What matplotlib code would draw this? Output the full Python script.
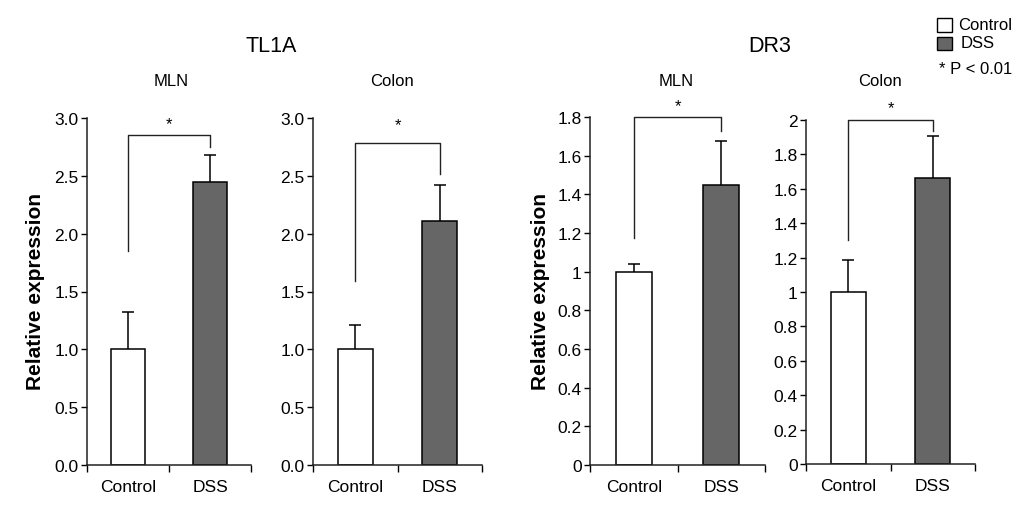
import matplotlib
matplotlib.use("Agg")
import matplotlib.pyplot as plt
from matplotlib.patches import Rectangle

plt.rcParams['font.family'] = ['Liberation Sans', 'DejaVu Sans']

W, H = 1028, 510

categories = ["Control", "DSS"]
group_titles = ["TL1A", "DR3"]
panel_titles = ["MLN", "Colon", "MLN", "Colon"]

tl1a_mln = [1.0, 2.45]
tl1a_mln_err = [0.32, 0.23]
tl1a_colon = [1.0, 2.11]
tl1a_colon_err = [0.21, 0.31]
dr3_mln = [1.0, 1.45]
dr3_mln_err = [0.04, 0.225]
dr3_colon = [1.0, 1.665]
dr3_colon_err = [0.185, 0.24]

# bracket levels: (top, left end, right end)
brackets = [(2.85, 1.85, 2.75), (2.78, 1.59, 2.52), (1.80, 1.175, 1.726), (2.0, 1.30, 1.936)]
star_levels = [2.95, 2.94, 1.857, 2.07]

ylims = [3.0, 3.0, 1.8, 2.0]
yticks = [[0.0, 0.5, 1.0, 1.5, 2.0, 2.5, 3.0],
          [0.0, 0.5, 1.0, 1.5, 2.0, 2.5, 3.0],
          [0, 0.2, 0.4, 0.6, 0.8, 1, 1.2, 1.4, 1.6, 1.8],
          [0, 0.2, 0.4, 0.6, 0.8, 1, 1.2, 1.4, 1.6, 1.8, 2]]
ytick_labels = [["0.0", "0.5", "1.0", "1.5", "2.0", "2.5", "3.0"],
                ["0.0", "0.5", "1.0", "1.5", "2.0", "2.5", "3.0"],
                ["0", "0.2", "0.4", "0.6", "0.8", "1", "1.2", "1.4", "1.6", "1.8"],
                ["0", "0.2", "0.4", "0.6", "0.8", "1", "1.2", "1.4", "1.6", "1.8", "2"]]

values = [tl1a_mln, tl1a_colon, dr3_mln, dr3_colon]
errors = [tl1a_mln_err, tl1a_colon_err, dr3_mln_err, dr3_colon_err]

# axes boxes in pixels: left, right, top, bottom
boxes = [(87, 251, 119, 466), (313, 482, 119, 466), (590, 765, 118, 466), (806, 975, 121, 465)]

bar_colors = ["white", "#666666"]

fig = plt.figure(figsize=(W / 100, H / 100), dpi=100)

for i in range(4):
    l, r, t, b = boxes[i]
    ax = fig.add_axes([l / W, 1 - b / H, (r - l) / W, (b - t) / H])
    x = [0, 1]
    ax.bar(x, values[i], width=0.41, color=bar_colors, edgecolor="black", linewidth=1.1, zorder=2)
    eb = ax.errorbar(x, values[i], yerr=[[0, 0], errors[i]], fmt="none", ecolor="black",
                     elinewidth=1.1, capsize=4.5, capthick=1.1, zorder=3)
    eb[1][0].set_visible(False)
    top, lft, rgt = brackets[i]
    ax.plot([0, 0, 1, 1], [lft, top, top, rgt], color="#222222", linewidth=1.0, clip_on=False, zorder=3)
    ax.text(0.5, star_levels[i], "*", ha="center", va="center", fontsize=12, clip_on=False)
    ax.set_xlim(-0.5, 1.5)
    ax.set_ylim(0, ylims[i])
    ax.set_yticks(yticks[i])
    ax.set_yticklabels(ytick_labels[i], fontsize=12.5)
    ax.set_xticks(x)
    ax.set_xticklabels(categories, fontsize=12.5)
    ax.set_xticks([-0.5, 0.5, 1.5], minor=True)
    ax.tick_params(axis="x", which="major", length=0, pad=10)
    ax.tick_params(axis="x", which="minor", length=5, width=1, direction="out")
    ax.tick_params(axis="y", length=4, width=1, direction="out", pad=2)
    for s in ["top", "right"]:
        ax.spines[s].set_visible(False)
    for s in ["left", "bottom"]:
        ax.spines[s].set_linewidth(1.1)
        ax.spines[s].set_color("#222222")
    ax.set_facecolor("none")

# group titles
fig.text(271 / W, 1 - 47 / H, group_titles[0], ha="center", va="center", fontsize=15.5)
fig.text(770 / W, 1 - 47 / H, group_titles[1], ha="center", va="center", fontsize=15.5)

# panel titles
for xp, t in zip([171, 392, 676, 880], panel_titles):
    fig.text(xp / W, 1 - 81 / H, t, ha="center", va="center", fontsize=12)

# y labels
for xp in [36, 540]:
    fig.text(xp / W, 1 - 292 / H, "Relative expression", rotation=90, ha="center", va="center",
             fontsize=15, fontweight="bold")

# legend
fig.add_artist(Rectangle((937 / W, 1 - 33 / H), 15 / W, 14 / H, transform=fig.transFigure,
                         facecolor="white", edgecolor="black", linewidth=1.0))
fig.add_artist(Rectangle((937 / W, 1 - 51 / H), 15 / W, 13 / H, transform=fig.transFigure,
                         facecolor="#666666", edgecolor="black", linewidth=1.0))
fig.text(958 / W, 1 - 26 / H, categories[0], ha="left", va="center", fontsize=12)
fig.text(961 / W, 1 - 44 / H, categories[1], ha="left", va="center", fontsize=12)
fig.text(1012 / W, 1 - 70 / H, "* P < 0.01", ha="right", va="center", fontsize=12)

fig.savefig("out.png", dpi=100, facecolor="white")
